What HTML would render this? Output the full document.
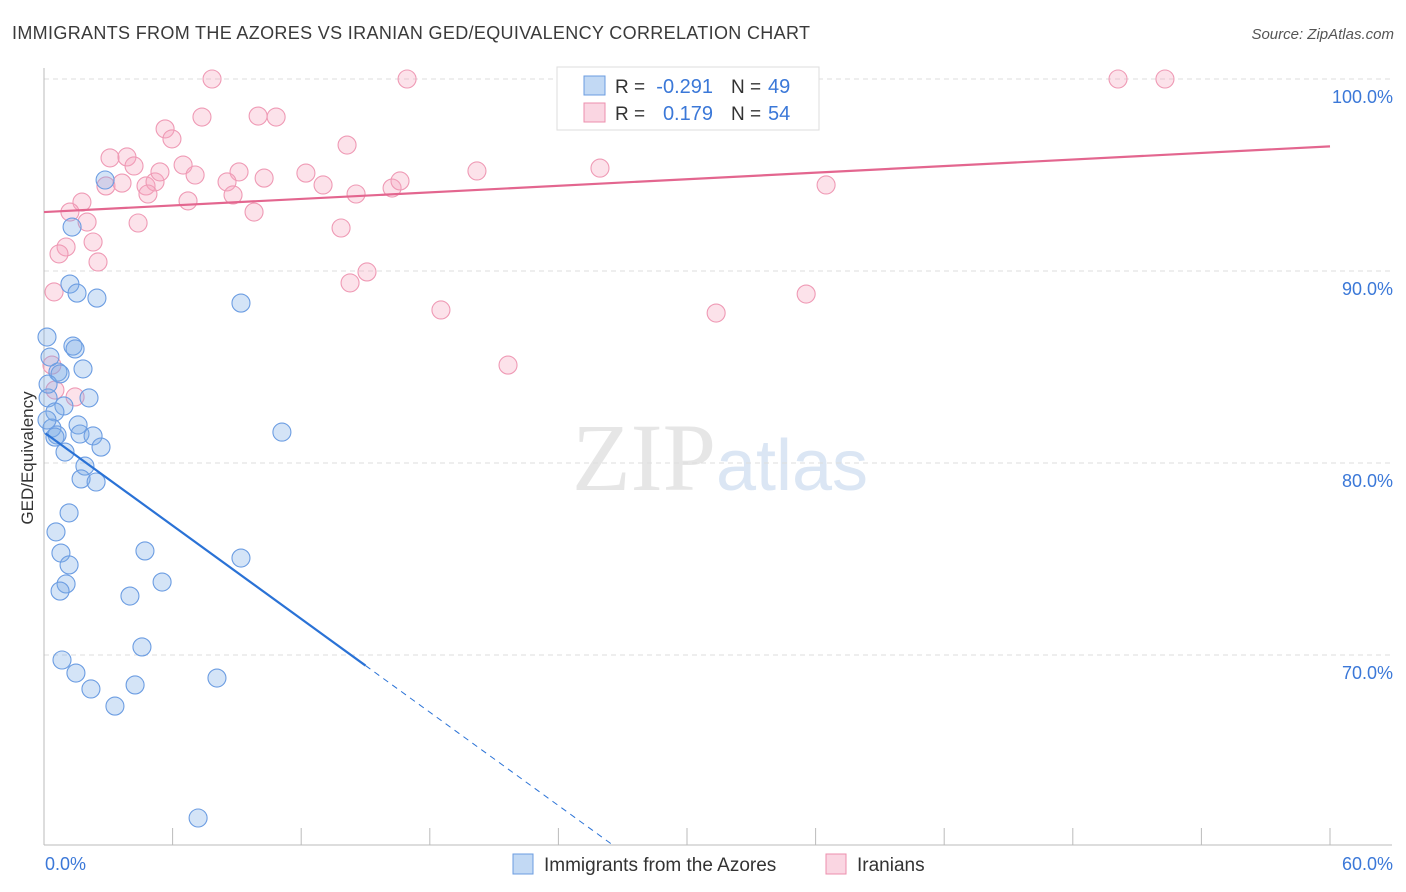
<!DOCTYPE html>
<html><head><meta charset="utf-8"><style>
body{margin:0;background:#fff;font-family:"Liberation Sans",sans-serif;}
svg{display:block}
</style></head><body>
<svg id="chart" width="1406" height="892" xmlns="http://www.w3.org/2000/svg">
<text x="12" y="39" font-size="18" fill="#3a3a3a" font-family="Liberation Sans, sans-serif" textLength="798">IMMIGRANTS FROM THE AZORES VS IRANIAN GED/EQUIVALENCY CORRELATION CHART</text>
<text x="1394" y="39" font-size="15" fill="#555" text-anchor="end" font-style="italic">Source: ZipAtlas.com</text>
<text x="720" y="490" font-size="96" text-anchor="middle" fill="#e6e6e6" font-family="Liberation Serif, serif">ZIP<tspan fill="#dbe6f4" font-family="Liberation Sans, sans-serif" font-size="72">atlas</tspan></text>
<g id="grid"></g><g id="axes"></g><g id="marks"></g>
<text transform="translate(33,458) rotate(-90)" font-size="17" fill="#333" text-anchor="middle">GED/Equivalency</text>
<g>
<rect x="557" y="67" width="262" height="63" fill="#fff" stroke="#ddd"/>
<rect x="584" y="76" width="21" height="19" fill="rgba(120,170,230,0.45)" stroke="#6b9ce0"/>
<text x="615" y="93" font-size="19" fill="#333">R =</text>
<text x="713" y="93" font-size="20" fill="#3b78d8" text-anchor="end">-0.291</text>
<text x="731" y="93" font-size="19" fill="#333">N =</text>
<text x="768" y="93" font-size="20" fill="#3b78d8">49</text>
<rect x="584" y="103" width="21" height="19" fill="rgba(245,165,190,0.45)" stroke="#ec8fad"/>
<text x="615" y="120" font-size="19" fill="#333">R =</text>
<text x="713" y="120" font-size="20" fill="#3b78d8" text-anchor="end">0.179</text>
<text x="731" y="120" font-size="19" fill="#333">N =</text>
<text x="768" y="120" font-size="20" fill="#3b78d8">54</text>
</g>
<g>
<rect x="513" y="854" width="20" height="20" fill="rgba(120,170,230,0.45)" stroke="#6b9ce0"/>
<text x="544" y="871" font-size="19" fill="#333">Immigrants from the Azores</text>
<rect x="826" y="854" width="20" height="20" fill="rgba(245,165,190,0.45)" stroke="#ec8fad"/>
<text x="857" y="871" font-size="19" fill="#333">Iranians</text>
</g>
</svg>
<script>
const blueX=[2.85,1.31,1.21,1.54,2.47,9.19,0.14,1.35,1.45,0.28,1.82,0.65,0.75,2.1,0.19,0.93,0.51,1.59,0.37,0.61,1.68,2.29,2.66,0.98,1.91,1.73,2.43,1.17,11.1,0.56,0.79,1.17,4.71,1.03,0.75,5.51,4.01,9.19,4.57,0.84,1.49,2.19,4.25,8.07,3.31,7.19,0.19,0.14,0.51];
const blueY=[94.74,92.29,89.32,88.85,88.59,88.33,86.56,86.09,85.94,85.52,84.9,84.74,84.64,83.39,83.39,82.97,82.66,81.98,81.82,81.46,81.51,81.41,80.83,80.57,79.84,79.17,79.01,77.4,81.61,76.41,75.31,74.69,75.42,73.7,73.33,73.8,73.07,75.05,70.42,69.74,69.06,68.23,68.44,68.8,67.34,61.51,84.11,82.24,81.35];
const pinkX=[7.84,16.94,50.11,52.3,7.37,9.99,10.83,5.65,5.97,14.14,3.08,3.87,4.2,6.49,9.1,12.22,7.05,20.2,25.94,2.89,3.64,4.76,5.18,5.41,10.27,8.54,13.02,4.85,6.72,8.82,14.56,16.24,16.61,36.49,1.77,1.21,9.8,4.39,2.01,13.86,1.03,0.7,2.29,2.52,15.07,14.28,0.47,18.52,31.36,35.56,21.65,1.45,0.37,0.51];
const pinkY=[100,100,100,100,98.02,98.07,98.02,97.4,96.88,96.56,95.89,95.94,95.47,95.52,95.16,95.1,95.0,95.21,95.36,94.43,94.58,94.43,94.64,95.16,94.84,94.64,94.48,94.01,93.65,93.96,94.01,94.32,94.69,94.48,93.59,93.07,93.07,92.5,92.55,92.24,91.25,90.89,91.51,90.47,89.95,89.38,88.91,87.97,87.81,88.8,85.1,83.44,85.1,83.8];
const blueTrend=[81.6,-0.81];
const pinkTrend=[93.07,0.057];
const yTicks=[100,90,80,70];
const yTickLabels=["100.0%","90.0%","80.0%","70.0%"];
const xTicks=[0,6,12,18,24,30,36,42,48,54,60];
const xLabels=["0.0%","60.0%"];
const NS="http://www.w3.org/2000/svg";
const X=v=>44+v/60*1286, Y=v=>79+(100-v)*19.2;
function mk(t,a,p){const e=document.createElementNS(NS,t);for(const k in a)e.setAttribute(k,a[k]);p.appendChild(e);return e;}
const grid=document.getElementById('grid'),axes=document.getElementById('axes'),marks=document.getElementById('marks');
yTicks.forEach((v,i)=>{
 const l=mk('line',{x1:44,x2:1392,y1:Y(v),y2:Y(v),stroke:'#ddd','stroke-dasharray':'5,4'},grid);
 
 
 const t=mk('text',{x:1393,y:Y(v)+24,'font-size':18,fill:'#3b78d8','text-anchor':'end'},axes);t.textContent=yTickLabels[i];
 
 
});
const ya=mk('line',{x1:44,x2:44,y1:68,y2:845,stroke:'#bbb'},axes);


const xa=mk('line',{x1:44,x2:1392,y1:845,y2:845,stroke:'#bbb'},axes);


xTicks.forEach(v=>{const l=mk('line',{x1:X(v),x2:X(v),y1:828,y2:845,stroke:'#bbb'},axes);
 
 });
[[0,'start',45],[60,'end',1393]].forEach((d,i)=>{const t=mk('text',{x:d[2],y:870,'font-size':18,fill:'#3b78d8','text-anchor':d[1]},axes);t.textContent=xLabels[i];
 
 });
function dots(xs,ys,fill,stroke,name){xs.forEach((x,i)=>{const c=mk('circle',{cx:X(x),cy:Y(ys[i]),r:9,fill:fill,stroke:stroke,'stroke-width':1.1},marks);
 
 });}
dots(pinkX,pinkY,'rgba(245,165,190,0.32)','#ef9ab5','iranians-point');
dots(blueX,blueY,'rgba(120,170,230,0.32)','#6c9de2','azores-point');
const f=(t,x)=>t[0]+t[1]*x;
let l=mk('line',{x1:X(0.07),y1:Y(f(blueTrend,0.07)),x2:X(15),y2:Y(f(blueTrend,15)),stroke:'#2a72d6','stroke-width':2.2},marks);


l=mk('line',{x1:X(15),y1:Y(f(blueTrend,15)),x2:X(26.6),y2:Y(f(blueTrend,26.6)),stroke:'#2a72d6','stroke-width':1,'stroke-dasharray':'6,5'},marks);


l=mk('line',{x1:X(0),y1:Y(f(pinkTrend,0)),x2:X(60),y2:Y(f(pinkTrend,60)),stroke:'#e3668f','stroke-width':2.2},marks);


</script>
</body></html>
